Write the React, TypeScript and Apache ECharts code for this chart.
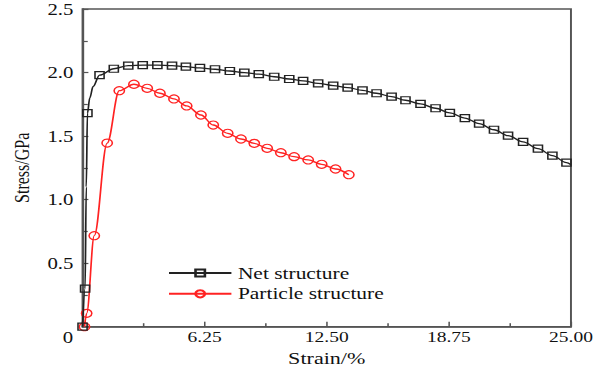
import React, { useEffect, useRef } from "react";
import * as echarts from "echarts";

// Net structure (black, squares)
const netStrain = [0, 0.13, 0.19, 0.25, 0.37, 0.54, 0.87, 1.6, 2.34, 3.08, 3.83, 4.58, 5.29, 6.01, 6.78, 7.54, 8.28, 9.02, 9.81, 10.58, 11.29, 12.06, 12.83, 13.57, 14.33, 15.05, 15.82, 16.53, 17.3, 18.07, 18.8, 19.57, 20.3, 21.06, 21.78, 22.55, 23.31, 24.05, 24.77, 25.0];
const netStress = [0, 0.3, 1.1, 1.68, 1.8, 1.89, 1.98, 2.03, 2.054, 2.059, 2.059, 2.054, 2.046, 2.036, 2.026, 2.012, 1.999, 1.987, 1.967, 1.949, 1.934, 1.915, 1.897, 1.881, 1.86, 1.837, 1.81, 1.782, 1.753, 1.719, 1.682, 1.642, 1.598, 1.55, 1.503, 1.454, 1.401, 1.346, 1.291, 1.275];
const netMarker = [1, 1, 0, 1, 0, 0, 1, 1, 1, 1, 1, 1, 1, 1, 1, 1, 1, 1, 1, 1, 1, 1, 1, 1, 1, 1, 1, 1, 1, 1, 1, 1, 1, 1, 1, 1, 1, 1, 1, 0];

// Particle structure (red, circles)
const partStrain = [0.1, 0.21, 0.6, 1.26, 1.88, 2.63, 3.31, 3.96, 4.68, 5.33, 6.06, 6.69, 7.43, 8.11, 8.79, 9.45, 10.15, 10.83, 11.55, 12.24, 12.95, 13.63];
const partStress = [0, 0.105, 0.716, 1.445, 1.857, 1.908, 1.876, 1.837, 1.792, 1.737, 1.666, 1.587, 1.522, 1.477, 1.443, 1.404, 1.369, 1.338, 1.312, 1.278, 1.241, 1.196];

const seriesNames = ["Net structure", "Particle structure"];
const xTicks = [0, 6.25, 12.5, 18.75, 25];
const yTicks = [0, 0.5, 1.0, 1.5, 2.0, 2.5];

const STRETCH = 1.3;
const W = 462;
const H = 372;
const FONT = "'Liberation Serif', 'Times New Roman', serif";
const AXIS = "#555";

export default function App() {
  const ref = useRef<HTMLDivElement>(null);
  useEffect(() => {
    if (!ref.current) return;
    const chart = echarts.init(ref.current, undefined, { renderer: "svg", width: W, height: H });
    const netData = netStrain.map((x, i) => ({
      value: [x, netStress[i]],
      symbol: netMarker[i] ? "rect" : "none",
    }));
    const partData = partStrain.map((x, i) => [x, partStress[i]]);
    chart.setOption({
      animation: false,
      backgroundColor: "#fff",
      textStyle: { fontFamily: FONT },
      grid: {
        left: 63.5,
        right: 22.8,
        top: 9,
        bottom: 45.3,
        show: true,
        borderColor: AXIS,
        borderWidth: 1.5,
      },
      legend: {
        orient: "vertical",
        left: 129,
        top: 264.5,
        padding: 0,
        itemWidth: 48,
        itemHeight: 9,
        itemGap: 3.8,
        textStyle: { fontFamily: FONT, fontSize: 16.5, color: "#111" },
        data: seriesNames,
      },
      xAxis: {
        type: "value",
        min: xTicks[0],
        max: xTicks[xTicks.length - 1],
        interval: xTicks[1] - xTicks[0],
        name: "Strain/%",
        nameLocation: "middle",
        nameGap: 20,
        nameTextStyle: { fontFamily: FONT, fontSize: 17, color: "#111" },
        axisLine: { lineStyle: { color: AXIS, width: 1.5 } },
        axisTick: { inside: true, length: 5, lineStyle: { color: AXIS, width: 1.2 } },
        minorTick: { show: true, splitNumber: 2, length: 3.5, lineStyle: { color: AXIS, width: 1.2 } },
        splitLine: { show: false },
        axisLabel: {
          showMinLabel: false,
          margin: 3,
          fontFamily: FONT,
          fontSize: 15,
          color: "#111",
          formatter: (v: number) => v.toFixed(2),
        },
      },
      yAxis: {
        type: "value",
        min: yTicks[0],
        max: yTicks[yTicks.length - 1],
        interval: yTicks[1] - yTicks[0],
        name: "Stress/GPa",
        nameLocation: "middle",
        nameRotate: 90,
        nameGap: 39,
        nameTextStyle: { fontFamily: FONT, fontSize: 16, color: "#111" },
        axisLine: { lineStyle: { color: AXIS, width: 1.5 } },
        axisTick: { inside: true, length: 4.5, lineStyle: { color: AXIS, width: 1.2 } },
        minorTick: { show: true, splitNumber: 2, length: 4, lineStyle: { color: AXIS, width: 1.2 } },
        splitLine: { show: false },
        axisLabel: {
          showMinLabel: false,
          margin: 7,
          fontFamily: FONT,
          fontSize: 16,
          color: "#111",
          formatter: (v: number) => (v === 0 ? "0" : v.toFixed(1)),
        },
      },
      graphic: [
        {
          type: "text",
          x: 52.3,
          y: 337.5,
          style: {
            text: "0",
            fontFamily: FONT,
            fontSize: 16,
            fill: "#111",
            align: "center",
            verticalAlign: "middle",
          },
        },
      ],
      series: [
        {
          name: seriesNames[0],
          type: "line",
          data: netData,
          smooth: 0.35,
          smoothMonotone: "x",
          symbol: "rect",
          symbolSize: 7,
          showAllSymbol: true,
          lineStyle: { color: "#222", width: 1.3 },
          itemStyle: { color: "rgba(255,255,255,0)", borderColor: "#222", borderWidth: 1.2 },
          z: 3,
        },
        {
          name: seriesNames[1],
          type: "line",
          data: partData,
          smooth: 0.35,
          smoothMonotone: "x",
          symbol: "circle",
          symbolSize: 8,
          showAllSymbol: true,
          lineStyle: { color: "#ff2222", width: 1.3 },
          itemStyle: { color: "rgba(255,255,255,0)", borderColor: "#ff2222", borderWidth: 1.2 },
          z: 2,
        },
      ],
    });
    return () => chart.dispose();
  }, []);
  return (
    <div
      style={{
        position: "absolute",
        left: 0,
        top: 0,
        width: 600,
        height: H,
        overflow: "hidden",
        background: "#fff",
      }}
    >
      <div
        ref={ref}
        style={{
          width: W,
          height: H,
          transform: `scaleX(${STRETCH})`,
          transformOrigin: "0 0",
        }}
      />
    </div>
  );
}
